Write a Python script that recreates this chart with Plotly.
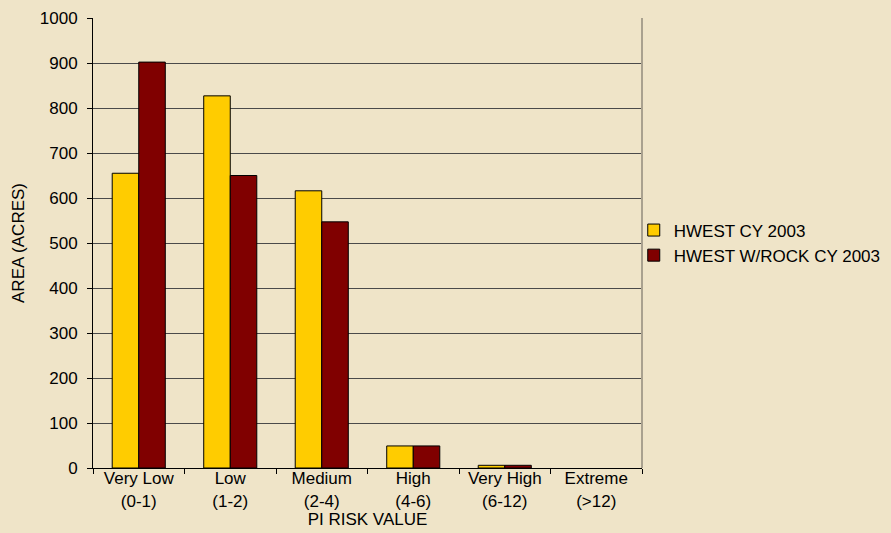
import plotly.graph_objects as go

categories = ["Very Low<br>(0-1)", "Low<br>(1-2)", "Medium<br>(2-4)", "High<br>(4-6)",
              "Very High<br>(6-12)", "Extreme<br>(>12)"]
hwest = [655, 827, 616, 49, 6, 0]
hwest_rock = [902, 650, 547, 49, 6, 0]
y_ticks = [0, 100, 200, 300, 400, 500, 600, 700, 800, 900, 1000]

bg = "#EFE4C8"
font = "Liberation Sans, Arial, sans-serif"
fs = 17

# no outline on empty bars
outline = [1 if v > 0 else 0 for v in hwest]
outline_rock = [1 if v > 0 else 0 for v in hwest_rock]

fig = go.Figure()
fig.add_trace(go.Bar(x=categories, y=hwest, name="HWEST CY 2003",
                     marker=dict(color="#FFCC00", line=dict(color="#000000", width=outline))))
fig.add_trace(go.Bar(x=categories, y=hwest_rock, name="HWEST W/ROCK CY 2003",
                     marker=dict(color="#800000", line=dict(color="#000000", width=outline_rock))))

fig.update_layout(
    width=891, height=533,
    paper_bgcolor=bg, plot_bgcolor=bg,
    margin=dict(l=93, r=249, t=18, b=65, autoexpand=False),
    barmode="group", bargap=0.42, bargroupgap=0,
    font=dict(family=font, size=fs, color="#000000"),
    showlegend=True,
    legend=dict(x=0.985, y=0.5, xanchor="left", yanchor="middle",
                bgcolor="rgba(0,0,0,0)", font=dict(size=fs),
                itemwidth=30, tracegroupgap=2),
)
fig.update_xaxes(
    automargin=False,
    showline=True, linecolor="#000000", linewidth=1,
    ticks="outside", tickson="boundaries", ticklen=5, tickcolor="#000000",
    ticklabelstandoff=-5,
    showgrid=False,
    title=dict(text="PI RISK VALUE", font=dict(size=fs), standoff=2),
    tickfont=dict(size=fs),
)
fig.update_yaxes(
    automargin=False,
    range=[0, 1000], tickvals=y_ticks,
    showline=True, linecolor="#000000", linewidth=1,
    ticks="outside", ticklen=5, tickcolor="#000000", ticklabelstandoff=6,
    showgrid=True, gridcolor="#4a4a4a", gridwidth=1,
    zeroline=False,
    title=dict(text="AREA (ACRES)", font=dict(size=fs), standoff=10),
    tickfont=dict(size=fs),
)
# thin shaded edge on the right side of the plot area
fig.add_shape(type="line", xref="x domain", yref="y domain",
              x0=1, x1=1, y0=0, y1=1, line=dict(color="#A9A18F", width=2))

fig.write_html("out.html")
